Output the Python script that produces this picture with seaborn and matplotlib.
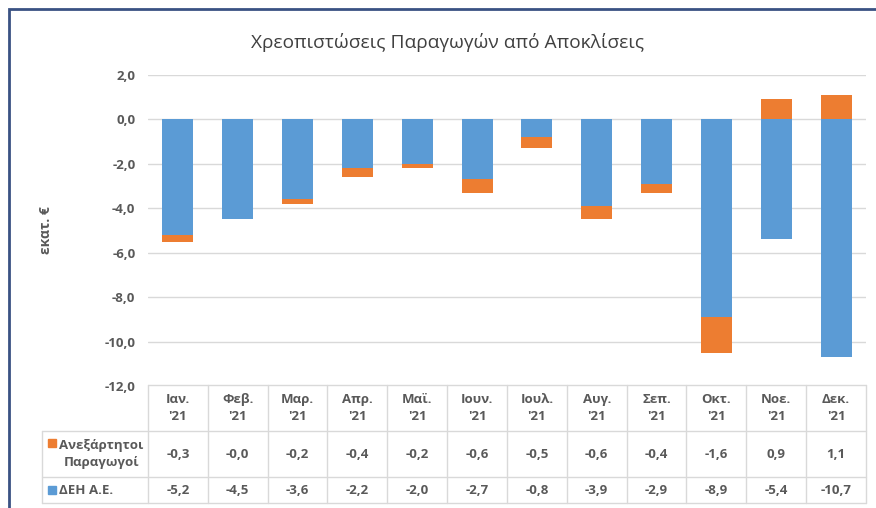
import numpy as np
import pandas as pd
import seaborn as sns
import matplotlib.pyplot as plt
from matplotlib.patches import Rectangle
from matplotlib.ticker import FuncFormatter

months = ["Ιαν.\n'21", "Φεβ.\n'21", "Μαρ.\n'21", "Απρ.\n'21", "Μαϊ.\n'21", "Ιουν.\n'21",
          "Ιουλ.\n'21", "Αυγ.\n'21", "Σεπ.\n'21", "Οκτ.\n'21", "Νοε.\n'21", "Δεκ.\n'21"]
ipp = [-0.3, -0.0, -0.2, -0.4, -0.2, -0.6, -0.5, -0.6, -0.4, -1.6, 0.9, 1.1]
deh = [-5.2, -4.5, -3.6, -2.2, -2.0, -2.7, -0.8, -3.9, -2.9, -8.9, -5.4, -10.7]
series_names = ["Ανεξάρτητοι\nΠαραγωγοί", "ΔΕΗ Α.Ε."]
y_ticks = [2, 0, -2, -4, -6, -8, -10, -12]

title = "Χρεοπιστώσεις Παραγωγών από Αποκλίσεις"
ylabel = "εκατ. €"

BLUE = "#5B9BD5"
ORANGE = "#ED7D31"
TXT = "#595959"
GRID = "#D9D9D9"

sns.set_style("white")
plt.rcParams["font.family"] = ["Open Sans", "DejaVu Sans"]

df = pd.DataFrame({"month": months, "deh": deh, "ipp": ipp})
# Excel stacks negatives below ΔΕΗ and positives above zero
df["ipp_end"] = np.where(df["ipp"] < 0, df["deh"] + df["ipp"], df["ipp"])

W, H = 876, 508
fig = plt.figure(figsize=(W / 100, H / 100), dpi=100)

# plot area in pixel terms
x0, x1 = 148, 866
y_top, y_bot = 75, 386
ax = fig.add_axes([x0 / W, 1 - y_bot / H, (x1 - x0) / W, (y_bot - y_top) / H])

sns.barplot(data=df, x="month", y="ipp_end", color=ORANGE, saturation=1,
            width=0.52, ax=ax, linewidth=0)
sns.barplot(data=df, x="month", y="deh", color=BLUE, saturation=1,
            width=0.52, ax=ax, linewidth=0)

ax.set_ylim(-12, 2)
ax.set_xlim(-0.5, len(months) - 0.5)
ax.set_yticks(y_ticks)
ax.yaxis.set_major_formatter(FuncFormatter(lambda v, p: f"{v:.1f}".replace(".", ",")))
ax.tick_params(axis="y", length=0, pad=9, labelsize=9.5, labelcolor=TXT)
for lab in ax.get_yticklabels():
    lab.set_fontweight("bold")
ax.tick_params(axis="x", bottom=False, labelbottom=False)
ax.set_xlabel("")
ax.set_ylabel(ylabel, fontsize=10, fontweight="bold", color=TXT)
ax.yaxis.set_label_coords((53 - x0) / (x1 - x0), 0.5)
ax.yaxis.grid(True, color=GRID, linewidth=1)
ax.set_axisbelow(True)
sns.despine(ax=ax, left=True, bottom=True)

fig.text(448 / W, 1 - 42 / H, title, ha="center", va="center",
         fontsize=13.8, color="#404040")

# data table underneath
tab_l, tab_t, tab_b = 42, 385, 503
tab = fig.add_axes([tab_l / W, 1 - (tab_b + 2) / H, (x1 - tab_l) / W, (tab_b + 2 - tab_t + 2) / H])
tab.set_xlim(tab_l, x1)
tab.set_ylim(tab_b + 2, tab_t - 2)
tab.axis("off")

col_w = (x1 - x0) / len(months)
rows = [tab_t, 431, 477, tab_b]
lk = dict(color=GRID, linewidth=1, clip_on=False)
tab.plot([x0, x1], [rows[0], rows[0]], **lk)
for r in rows[1:]:
    tab.plot([tab_l, x1], [r, r], **lk)
for i in range(len(months) + 1):
    xx = x0 + i * col_w
    tab.plot([xx, xx], [rows[0], rows[-1]], **lk)
tab.plot([tab_l, tab_l], [rows[1], rows[-1]], **lk)

tk = dict(ha="center", va="center", fontsize=9.5, fontweight="bold", color=TXT)
fmt = lambda v: f"{v:.1f}".replace(".", ",")
for i, m in enumerate(months):
    cx = x0 + (i + 0.5) * col_w
    tab.text(cx, (rows[0] + rows[1]) / 2, m, linespacing=1.45, **tk)
    tab.text(cx, (rows[1] + rows[2]) / 2, fmt(ipp[i]), **tk)
    tab.text(cx, (rows[2] + rows[3]) / 2, fmt(deh[i]), **tk)

# legend keys in the row headers
tab.add_patch(Rectangle((48, 439), 8, 8, color=ORANGE, clip_on=False))
tab.text(59, (rows[1] + rows[2]) / 2, series_names[0], ha="left", va="center",
         multialignment="center", fontsize=9.5, fontweight="bold", color=TXT, linespacing=1.45)
tab.add_patch(Rectangle((48, 486), 8, 8, color=BLUE, clip_on=False))
tab.text(59, (rows[2] + rows[3]) / 2, series_names[1], ha="left", va="center",
         fontsize=9.5, fontweight="bold", color=TXT)

# chart frame (only top and left edges fall inside the picture)
fig.add_artist(Rectangle((9 / W, -0.1), 2, 1.1 - 9 / H, transform=fig.transFigure,
                         fill=False, edgecolor="#3A5283", linewidth=2))

fig.savefig("out.png", dpi=100)
